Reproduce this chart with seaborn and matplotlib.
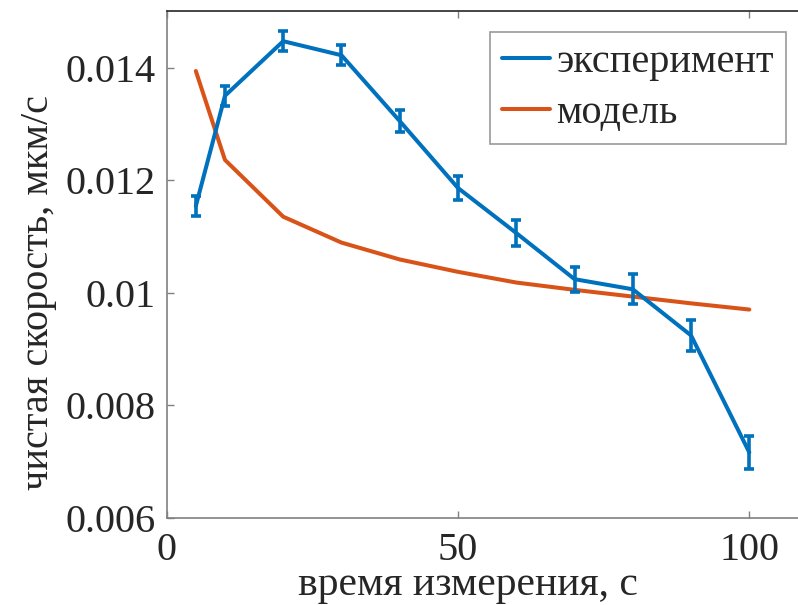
import matplotlib
matplotlib.use("Agg")
import matplotlib.pyplot as plt
import seaborn as sns
import pandas as pd

# measurement times, s
time_s = [5, 10, 20, 30, 40, 50, 60, 70, 80, 90, 100]
# measured net velocity, um/s, and its error
exp_speed = [0.01154, 0.01350, 0.01447, 0.01422, 0.01305, 0.01186,
             0.01106, 0.01024, 0.01006, 0.00924, 0.00716]
exp_err = [0.00017, 0.00018, 0.00018, 0.00018, 0.00020, 0.00022,
           0.00023, 0.00022, 0.00027, 0.00028, 0.00030]
# model prediction
model_speed = [0.01394, 0.01236, 0.01135, 0.01089, 0.01059, 0.01037,
               0.01018, 0.01005, 0.00993, 0.00981, 0.00970]

x_ticks = [0, 50, 100]
y_ticks = [0.006, 0.008, 0.01, 0.012, 0.014]
y_tick_labels = ["0.006", "0.008", "0.01", "0.012", "0.014"]

sns.set_style("ticks")
plt.rcParams["font.family"] = ["Liberation Serif", "DejaVu Serif"]

BLUE = "#0072BD"
ORANGE = "#D95319"
FS = 29

df = pd.DataFrame({"t": time_s, "exp": exp_speed, "err": exp_err,
                   "model": model_speed})

fig = plt.figure(figsize=(7.98, 6.05), dpi=100)
ax = fig.add_axes([0.2089, 0.1443, 0.8031, 0.8369])

ax.errorbar(df["t"], df["exp"], yerr=df["err"], fmt="none", ecolor=BLUE,
            elinewidth=2.6, capsize=3.6, capthick=2.6, zorder=3)
sns.lineplot(data=df, x="t", y="exp", ax=ax, color=BLUE, linewidth=2.9,
             label="эксперимент", zorder=3)
sns.lineplot(data=df, x="t", y="model", ax=ax, color=ORANGE, linewidth=2.9,
             label="модель", zorder=2)

ax.set_xlim(0, 110)
ax.set_ylim(0.006, 0.015)
ax.set_xticks(x_ticks)
ax.set_xticklabels([str(v) for v in x_ticks])
ax.set_yticks(y_ticks)
ax.set_yticklabels(y_tick_labels)

ax.tick_params(axis="both", direction="in", length=5, width=1,
               labelsize=FS, colors="#808080", labelcolor="#262626",
               top=True, right=False)
ax.tick_params(axis="x", pad=10)
ax.tick_params(axis="y", pad=8)

for side in ("left", "bottom"):
    ax.spines[side].set_color("#808080")
    ax.spines[side].set_linewidth(1.2)
ax.spines["top"].set_color("#262626")
ax.spines["top"].set_linewidth(1.2)
ax.spines["right"].set_visible(False)

ax.set_xlabel("время измерения, с", fontsize=FS + 1, color="#262626")
ax.set_ylabel("чистая скорость, мкм/с", fontsize=FS, color="#262626")
ax.xaxis.set_label_coords(0.470, -0.0944)
ax.yaxis.set_label_coords(-0.171, 0.445)

leg = ax.legend(loc="upper right", bbox_to_anchor=(0.9663, 0.9593),
                fontsize=FS, frameon=True, fancybox=False,
                handlelength=1.2, handletextpad=0.15, borderpad=0.3,
                labelspacing=0.33, borderaxespad=0)
leg.get_frame().set_edgecolor("#808080")
leg.get_frame().set_linewidth(1.2)
for line in leg.get_lines():
    line.set_linewidth(2.9)

fig.savefig("out.png", dpi=100)
